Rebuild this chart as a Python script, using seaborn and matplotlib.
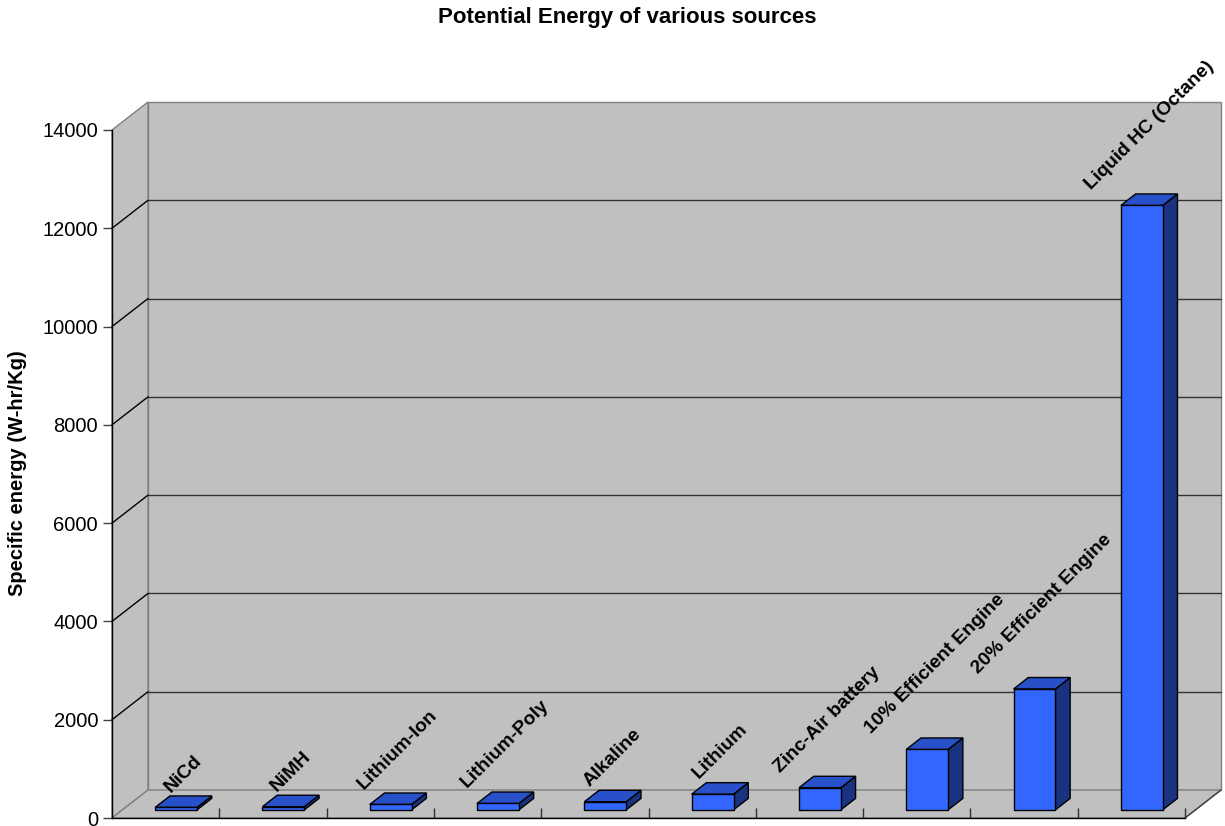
import matplotlib
matplotlib.use("Agg")
import matplotlib.pyplot as plt
from matplotlib.patches import Polygon
import seaborn as sns
import pandas as pd

# Energy sources and their specific energy (W-hr/Kg)
sources = ["NiCd", "NiMH", "Lithium-Ion", "Lithium-Poly", "Alkaline", "Lithium",
           "Zinc-Air battery", "10% Efficient Engine", "20% Efficient Engine",
           "Liquid HC (Octane)"]
energy = [50, 65, 110, 130, 165, 320, 450, 1230, 2460, 12300]
y_ticks = [0, 2000, 4000, 6000, 8000, 10000, 12000, 14000]

df = pd.DataFrame({"source": sources, "energy": energy})

sns.set_theme(style="white")
plt.rcParams["font.family"] = ["Liberation Sans", "DejaVu Sans"]
plt.rcParams["text.color"] = "black"
plt.rcParams["ytick.color"] = "black"
plt.rcParams["xtick.color"] = "black"

W, H = 1225, 826
fig = plt.figure(figsize=(W / 100, H / 100), dpi=100)
# front plane of the box
left, right, bottom, top = 112, 1185, 818, 130
ax = fig.add_axes([left / W, (H - bottom) / H, (right - left) / W, (bottom - top) / H])
ax.set_xlim(-0.5, len(sources) - 0.5)
ax.set_ylim(0, 14000)
ax.patch.set_alpha(0)

# oblique depth: back wall sits 36 px right and 28 px up
px_x = (right - left) / len(sources)
px_y = (bottom - top) / 14000
DX = 36 / px_x
DY = 28 / px_y


def proj(x, y, d):
    return (x + d * DX, y + d * DY)


WALL = "#C0C0C0"
EDGE = "#808080"
x0, x1 = -0.5, len(sources) - 0.5
ymax = 14000

walls = [
    [proj(x0, 0, 1), proj(x1, 0, 1), proj(x1, ymax, 1), proj(x0, ymax, 1)],   # back
    [proj(x0, 0, 0), proj(x0, ymax, 0), proj(x0, ymax, 1), proj(x0, 0, 1)],   # left
    [proj(x0, 0, 0), proj(x1, 0, 0), proj(x1, 0, 1), proj(x0, 0, 1)],         # floor
]
for pts in walls:
    ax.add_patch(Polygon(pts, closed=True, facecolor=WALL, edgecolor=EDGE,
                         linewidth=1, clip_on=False, zorder=0))

# gridlines on back wall and their continuation on the left wall
for t in y_ticks[1:-1]:
    xs, ys = zip(proj(x0, t, 1), proj(x1, t, 1))
    ax.plot(xs, ys, color="#333333", lw=1, clip_on=False, zorder=1)
    xs, ys = zip(proj(x0, t, 0), proj(x0, t, 1))
    ax.plot(xs, ys, color="black", lw=1, clip_on=False, zorder=1)
xs, ys = zip(proj(x1, 0, 0), proj(x1, 0, 1))
ax.plot(xs, ys, color="#404040", lw=1, clip_on=False, zorder=1)

# bars (front faces) via seaborn
d0, d1 = 0.29, 0.70
sns.barplot(data=df, x="source", y="energy", color="#3366FF", saturation=1,
            width=0.39, edgecolor="black", linewidth=1, ax=ax, zorder=3)

bars = [p for p in ax.patches if not isinstance(p, Polygon)]
for bar, val, name in zip(bars, energy, sources):
    bx0 = bar.get_x()
    bw = bar.get_width()
    bar.set_x(bx0 + d0 * DX)
    bar.set_y(d0 * DY)
    bar.set_clip_on(False)
    bx1 = bx0 + bw
    side = [proj(bx1, 0, d0), proj(bx1, val, d0), proj(bx1, val, d1), proj(bx1, 0, d1)]
    topf = [proj(bx0, val, d0), proj(bx1, val, d0), proj(bx1, val, d1), proj(bx0, val, d1)]
    ax.add_patch(Polygon(side, closed=True, facecolor="#1A3380", edgecolor="black",
                         linewidth=1, clip_on=False, zorder=2.5))
    ax.add_patch(Polygon(topf, closed=True, facecolor="#2850C8", edgecolor="black",
                         linewidth=1, clip_on=False, zorder=2.5))
    cx = bx0 + bw / 2 + (d0 + d1) / 2 * DX
    ax.text(cx, val + d0 * DY + 12 / px_y, name, rotation=45, ha="center", va="bottom",
            fontsize=13.9, fontweight="bold", color="black", zorder=5, clip_on=False)

# axes styling
for s in ["top", "right"]:
    ax.spines[s].set_visible(False)
for s in ["left", "bottom"]:
    ax.spines[s].set_color("black")
    ax.spines[s].set_linewidth(1)
    ax.spines[s].set_zorder(4)

ax.set_yticks(y_ticks)
ax.set_yticklabels([str(t) for t in y_ticks], fontsize=14.5, color="black")
ax.tick_params(axis="y", direction="out", length=6.5, width=1, color="#404040",
               pad=3.5, left=True)
ax.set_xticks([i - 0.5 for i in range(1, len(sources) + 1)])
ax.set_xticklabels([])
ax.tick_params(axis="x", direction="in", length=7.5, width=1, color="#303030", bottom=True)
ax.set_xlabel("")
ax.set_ylabel("")

fig.text(18 / W, 1 - 473 / H, "Specific energy (W-hr/Kg)", rotation=90, ha="center",
         va="center", fontsize=14.5, fontweight="bold", color="black")
fig.text(627 / W, 1 - 18 / H, "Potential Energy of various sources", ha="center",
         va="center", fontsize=16, fontweight="bold", color="black")

fig.savefig("out.png", dpi=100, facecolor="white")
